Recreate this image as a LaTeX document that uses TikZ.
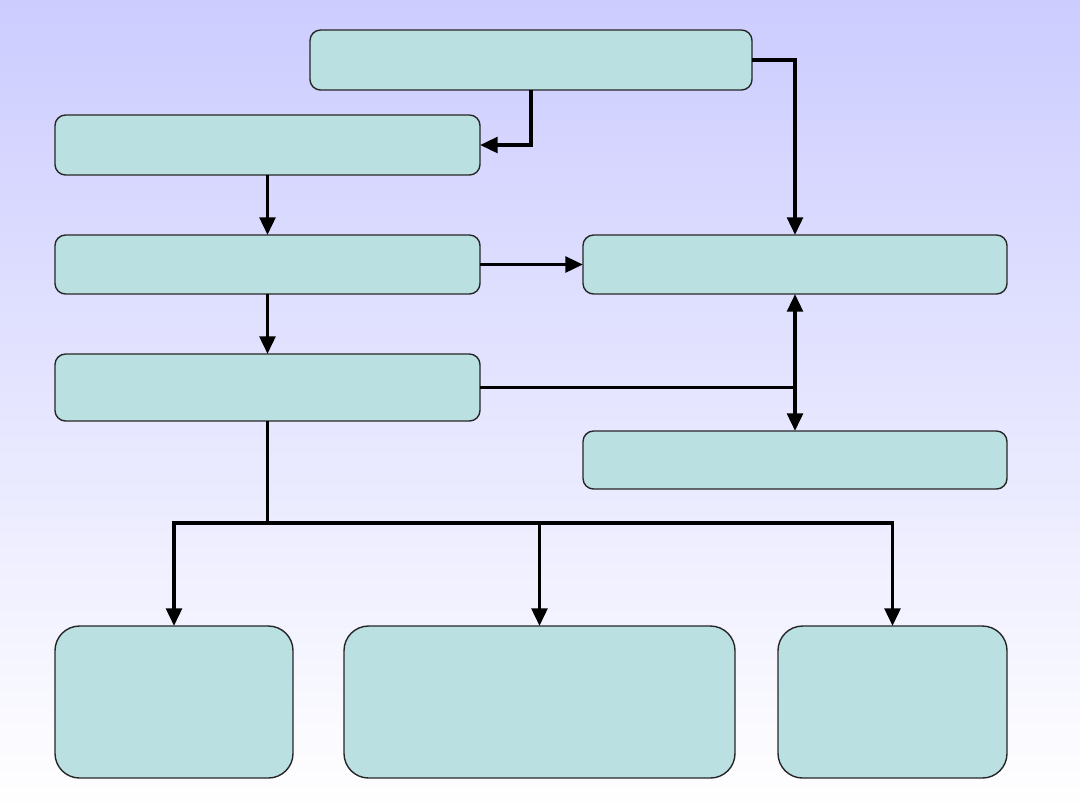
\documentclass[tikz,border=0pt]{standalone}
\usetikzlibrary{arrows.meta, positioning}
\definecolor{fundo}{RGB}{204,204,255}
\definecolor{verdeagua}{RGB}{187,224,225}

\begin{document}
\begin{tikzpicture}[
        caixa/.style={draw=black!85, line width=0.4pt, rounded corners=3pt, fill=verdeagua, inner sep=0pt, outer sep=0pt, minimum width=#1, minimum height=6mm},
        caixa/.default=4.25cm,
        bloco/.style={draw=black!85, line width=0.4pt, rounded corners=7pt, fill=verdeagua, inner sep=0pt, outer sep=0pt, minimum width=#1, minimum height=15.2mm},
        seta/.style={-{Triangle[length=5pt, width=4.4pt]}, line width=1.1pt},
        linha/.style={line width=1.1pt},
        node distance=6mm
    ]
        \shade[top color=fundo, bottom color=white] (0,0) rectangle (10.8,-8.1);

        \node[caixa=4.42cm] (topo) at (5.31,-0.60) {};
        \node[caixa] (b1) at (2.675,-1.45) {};
        \node[caixa, minimum height=5.9mm, below=of b1] (b2) {};
        \node[caixa, minimum height=6.7mm, below=of b2] (b3) {};

        \node[caixa=4.24cm, minimum height=5.9mm, right=10.3mm of b2] (r1) {};
        \node[caixa=4.24cm, minimum height=5.8mm, below=13.7mm of r1] (r2) {};

        \node[bloco=2.38cm] (c1) at (1.74,-7.02) {};
        \node[bloco=3.91cm] (c2) at (5.395,-7.02) {};
        \node[bloco=2.29cm] (c3) at (8.925,-7.02) {};

        \draw[seta] (topo.south) |- (b1.east);
        \draw[seta] (topo.east) -| (r1.north);
        \draw[seta] (b1) -- (b2);
        \draw[seta] (b2) -- (r1);
        \draw[seta] (b2) -- (b3);

        \coordinate (juncao) at (b3.east -| r1.south);
        \draw[linha] (b3.east) -- (juncao);
        \draw[seta] (juncao) -- (r1.south);
        \draw[seta] (juncao) -- (r2.north);

        \coordinate (ramo) at (2.675,-5.23);
        \draw[linha] (b3.south) -- (ramo);
        \draw[seta] (ramo) -| (c1.north);
        \draw[seta] (ramo) -| (c3.north);
        \draw[seta] (ramo -| c2.north) -- (c2.north);
    \end{tikzpicture}
\end{document}
